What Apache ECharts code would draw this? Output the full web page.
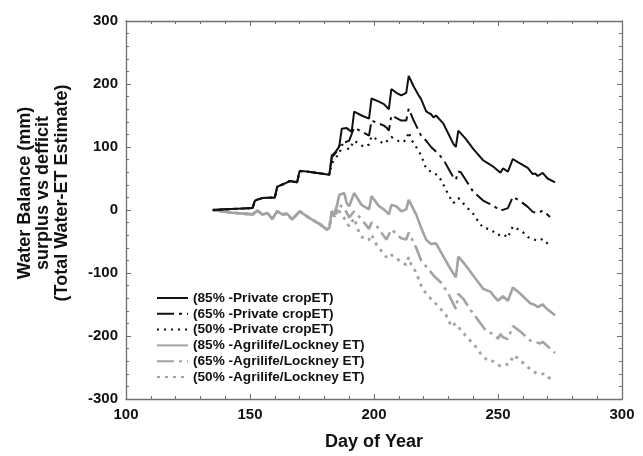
<!DOCTYPE html>
<html>
<head>
<meta charset="utf-8">
<script src="https://cdn.jsdelivr.net/npm/echarts@6/dist/echarts.min.js"></script>
<style>
  html, body { margin: 0; padding: 0; background: #fff; }
  #chart { width: 643px; height: 456px; }
</style>
</head>
<body>
<div id="chart"></div>
<script>
// Day-of-year / water balance (mm) pairs for each scenario.
// Before ~day 182 the three scenarios of each ET source coincide.
const privateEarly = [[135,0],[140,1],[145,2],[151,3],[152,15],[155,19],[160,20],[161,37],[164,42],[166,46],[169,44],[170,62],[173,61],[182,56]];
const agrilifeEarly = [[135,0],[142,-4],[151,-7],[153,-1],[155,-7],[157,-5],[159,-14],[161,-2],[163,-7],[165,-6],[167,-15],[170,-2],[174,-13],[178,-22],[181,-31],[182,-28],[183,-2]];

const private85Late = [[183,87],[184,90],[185,95],[186,101],[187,129],[189,130],[191,124],[192,156],[195,150],[198,145],[199,177],[202,172],[204,168],[206,160],[207,192],[209,186],[211,182],[213,186],[214,213],[216,196],[218,182],[219,176],[221,157],[222,154],[223,152],[224,147],[225,150],[228,137],[232,105],[233,100],[234,126],[237,113],[240,97],[244,79],[246,74],[248,69],[251,59],[252,66],[254,61],[256,81],[258,76],[262,67],[264,57],[265,58],[266,54],[268,59],[270,50],[273,44]];
const private65Late = [[183,84],[184,88],[185,93],[186,102],[187,105],[190,110],[192,131],[198,118],[199,142],[204,134],[205,131],[206,126],[207,150],[211,142],[213,142],[214,161],[216,142],[219,118],[221,110],[223,100],[226,89],[228,80],[230,66],[232,52],[233,48],[234,61],[235,60],[240,29],[244,15],[246,11],[248,7],[251,-1],[254,3],[256,21],[259,14],[262,5],[264,-3],[266,-5],[268,-1],[271,-11]];
const private50Late = [[183,74],[185,85],[186,88],[187,104],[190,96],[192,110],[196,100],[198,104],[199,117],[202,110],[204,105],[207,116],[211,107],[213,111],[214,124],[215,112],[217,100],[219,87],[221,66],[224,58],[226,55],[228,40],[230,24],[232,11],[234,19],[237,6],[240,-6],[242,-18],[244,-28],[247,-31],[250,-40],[252,-38],[254,-44],[255,-34],[256,-26],[260,-35],[262,-43],[266,-49],[268,-46],[271,-57]];

const agrilife85Late = [[184,-7],[185,6],[186,24],[188,27],[189,11],[190,6],[192,27],[195,8],[198,1],[199,22],[202,6],[204,1],[206,-7],[207,8],[209,6],[211,-2],[213,1],[214,16],[217,-7],[219,-28],[221,-47],[223,-54],[225,-53],[227,-67],[230,-88],[233,-107],[234,-74],[237,-88],[244,-125],[247,-130],[248,-135],[250,-144],[252,-137],[254,-144],[256,-123],[259,-133],[263,-148],[265,-151],[266,-154],[268,-150],[270,-158],[273,-167]];
const agrilife65Late = [[184,-7],[185,-5],[186,8],[188,3],[190,-12],[192,-2],[195,-15],[198,-30],[199,-20],[201,-25],[205,-47],[207,-31],[211,-45],[213,-47],[214,-36],[217,-60],[219,-80],[223,-99],[224,-104],[227,-115],[230,-133],[233,-157],[234,-133],[236,-141],[239,-159],[245,-191],[248,-197],[250,-204],[251,-197],[252,-202],[254,-205],[256,-184],[259,-193],[263,-207],[267,-212],[268,-209],[273,-227]];
const agrilife50Late = [[184,-10],[186,-2],[188,-13],[190,-26],[192,-13],[194,-36],[196,-47],[198,-47],[199,-39],[201,-55],[205,-75],[206,-70],[208,-73],[211,-83],[213,-87],[214,-75],[215,-87],[217,-99],[219,-120],[221,-133],[225,-149],[228,-162],[230,-172],[231,-185],[233,-180],[235,-191],[238,-204],[241,-217],[243,-228],[246,-240],[248,-240],[251,-248],[253,-246],[255,-243],[256,-231],[258,-235],[261,-246],[264,-256],[266,-260],[269,-260],[272,-272]];

const seriesNames = [
  '(85% -Private cropET)',
  '(65% -Private cropET)',
  '(50% -Private cropET)',
  '(85% -Agrilife/Lockney ET)',
  '(65% -Agrilife/Lockney ET)',
  '(50% -Agrilife/Lockney ET)'
];
const seriesData = [
  privateEarly.concat(private85Late),
  privateEarly.concat(private65Late),
  privateEarly.concat(private50Late),
  agrilifeEarly.concat(agrilife85Late),
  agrilifeEarly.concat(agrilife65Late),
  agrilifeEarly.concat(agrilife50Late)
];

const xTicks = { min: 100, max: 300, interval: 50 };
const yTicks = { min: -300, max: 300, interval: 100 };

const BLACK = '#111111';
const GRAY = '#a3a3a3';
const styles = [
  { color: BLACK, width: 2, type: 'solid' },
  { color: BLACK, width: 2, type: [17, 5, 3, 5] },
  { color: BLACK, width: 2.2, type: [2, 5] },
  { color: GRAY, width: 2.6, type: 'solid' },
  { color: GRAY, width: 2.6, type: [17, 5, 3, 5] },
  { color: GRAY, width: 2.8, type: [3, 5] }
];

const FONT = 'Liberation Sans, Arial, Helvetica, sans-serif';
const frameColor = '#707070';

function axisBase(extra) {
  return Object.assign({
    type: 'value',
    splitLine: { show: false },
    axisLine: { show: true, onZero: false, lineStyle: { color: frameColor, width: 1.3 } },
    axisTick: { show: true, inside: true, length: 5, lineStyle: { color: frameColor, width: 1 } },
    minorTick: { show: true, splitNumber: 5, length: 3, lineStyle: { color: frameColor, width: 1 } },
    minorSplitLine: { show: false }
  }, extra);
}

const chart = echarts.init(document.getElementById('chart'), null, { renderer: 'canvas' });

chart.setOption({
  animation: false,
  backgroundColor: '#ffffff',
  grid: { left: 126, top: 21, right: 21, bottom: 53, containLabel: false },
  xAxis: [
    axisBase({
      position: 'bottom', min: xTicks.min, max: xTicks.max, interval: xTicks.interval,
      name: 'Day of Year', nameLocation: 'middle', nameGap: 34,
      nameTextStyle: { fontFamily: FONT, fontWeight: 'bold', fontSize: 18, color: '#111' },
      axisLabel: { margin: 8, fontFamily: FONT, fontWeight: 'bold', fontSize: 15, color: '#111' }
    }),
    axisBase({
      position: 'top', min: xTicks.min, max: xTicks.max, interval: xTicks.interval,
      axisLabel: { show: false }
    })
  ],
  yAxis: [
    axisBase({
      position: 'left', min: yTicks.min, max: yTicks.max, interval: yTicks.interval,
      axisLabel: { margin: 8, fontFamily: FONT, fontWeight: 'bold', fontSize: 15, color: '#111' }
    }),
    axisBase({
      position: 'right', min: yTicks.min, max: yTicks.max, interval: yTicks.interval,
      axisLabel: { show: false }
    })
  ],
  legend: {
    orient: 'vertical',
    left: 156,
    top: 291,
    itemWidth: 31,
    itemHeight: 10,
    itemGap: 1.8,
    padding: 0,
    data: seriesNames,
    itemStyle: { opacity: 0 },
    textStyle: { fontFamily: FONT, fontWeight: 'bold', fontSize: 13.6, lineHeight: 13, color: '#111' }
  },
  graphic: [{
    type: 'text',
    x: 43.5,
    y: 193,
    rotation: Math.PI / 2,
    style: {
      text: 'Water Balance (mm)\nsurplus vs defficit\n(Total Water-ET Estimate)',
      font: 'bold 18px ' + FONT,
      fill: '#111',
      lineHeight: 18.5,
      align: 'center',
      verticalAlign: 'middle',
      textAlign: 'center',
      textVerticalAlign: 'middle'
    }
  }],
  series: seriesNames.map((name, i) => ({
    name: name,
    type: 'line',
    data: seriesData[i],
    showSymbol: false,
    symbol: 'none',
    z: i < 3 ? 4 : 3,
    lineStyle: { color: styles[i].color, width: styles[i].width, type: styles[i].type },
    itemStyle: { color: styles[i].color }
  }))
});
</script>
</body>
</html>
